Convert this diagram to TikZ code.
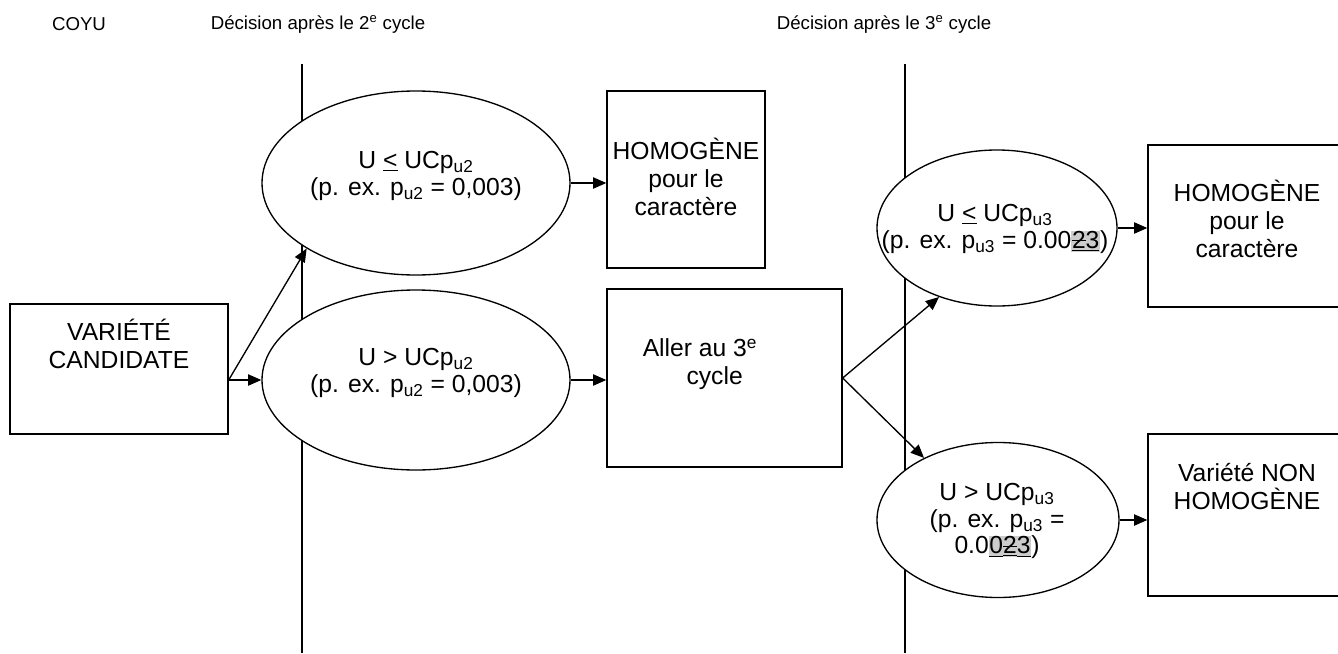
\documentclass[tikz,border=0pt]{standalone}
\usepackage{fontspec}
\setmainfont{Liberation Sans}
\usepackage{tikz}
\usetikzlibrary{shapes.geometric}
\usetikzlibrary{arrows.meta}
\usepackage{color}
\definecolor{hilite}{RGB}{204, 204, 204}
\newcommand{\chg}[1]{{\setlength{\fboxsep}{0.5pt}\colorbox{hilite}{#1}}}
\newcommand{\struck}[1]{\underline{\rlap{\rule[0.3em]{0.556em}{0.6pt}}#1}}

\begin{document}
\begin{tikzpicture}[x=0.75pt, y=-0.75pt,
        head/.style={font=\fontsize{14}{17}\selectfont},
        box/.style={draw, rectangle, line width=1pt, fill=white, inner sep=0pt},
        oval/.style={draw, ellipse, line width=1pt, fill=white, inner sep=0pt},
        txt/.style={align=center, inner sep=0pt, font=\fontsize{18.5}{21}\selectfont},
        ovaltxt/.style={txt, font=\fontsize{18.5}{20}\selectfont},
        flow/.style={line width=1pt, -{Triangle[length=10pt, width=8.5pt]}},
        sep/.style={line width=1pt}]
            % Frame to fix the page size:
            \useasboundingbox                                            (0, 0) rectangle (1338, 653);
            \clip                                                        (0, 0) rectangle (1338, 653);
            % Column titles:
            \node[head] (coyu) at ( 79, 24) {COYU};
            \node[head] (dec2) at (318, 24) {Décision après le 2\textsuperscript{e} cycle};
            \node[head] (dec3) at (884, 24) {Décision après le 3\textsuperscript{e} cycle};
            % Column separators:
            \coordinate (sep2top) at (302,  64);  \coordinate (sep2bot) at (302, 653);
            \coordinate (sep3top) at (905,  64);  \coordinate (sep3bot) at (905, 653);
            \draw[sep] (sep2top) -- (sep2bot);
            \draw[sep] (sep3top) -- (sep3bot);
            % Boxes:
            \node[box, minimum width=163.5pt, minimum height=97.5pt]  (cand)   at ( 119, 369.0) {};
            \node[box, minimum width=118.5pt, minimum height=132.75pt](hom2)   at ( 686, 179.5) {};
            \node[box, minimum width=176.25pt,minimum height=133.5pt] (go3)    at ( 724.5, 378) {};
            \node[box, minimum width=148.5pt, minimum height=121.5pt] (hom3)   at (1247, 226.0) {};
            \node[box, minimum width=148.5pt, minimum height=121.5pt] (nonhom) at (1247, 515.0) {};
            \node[txt] (candtxt)   at ( 119, 344) {VARIÉTÉ\\CANDIDATE};
            \node[txt] (hom2txt)   at ( 686, 177) {HOMOGÈNE\\pour le\\caractère};
            \node[txt] (go3txt)    at ( 700, 364) {Aller au 3\textsuperscript{e}\\\hspace*{22pt}cycle};
            \node[txt] (hom3txt)   at (1247, 219) {HOMOGÈNE\\pour le\\caractère};
            \node[txt] (nonhomtxt) at (1247, 487) {Variété NON\\HOMOGÈNE};
            % Tests:
            \node[oval, minimum width=231pt,   minimum height=138pt]    (le2) at (416, 183) {};
            \node[oval, minimum width=231pt,   minimum height=135pt]    (gt2) at (416, 380) {};
            \node[oval, minimum width=180pt,   minimum height=117pt]    (le3) at (997, 228) {};
            \node[oval, minimum width=181.5pt, minimum height=116.25pt] (gt3) at (998, 520) {};
            \node[ovaltxt] (le2txt) at (416, 176)
                 {U \underline{<} UCp\textsubscript{u2}\\(p. ex. p\textsubscript{u2} = 0,003)};
            \node[ovaltxt] (gt2txt) at (416, 373)
                 {U > UCp\textsubscript{u2}\\(p. ex. p\textsubscript{u2} = 0,003)};
            \node[ovaltxt] (le3txt) at (995, 229)
                 {U \underline{<} UCp\textsubscript{u3}\\(p. ex. p\textsubscript{u3} = 0.00\chg{\struck{2}\underline{3}})};
            \node[ovaltxt] (gt3txt) at (997, 521)
                 {U > UCp\textsubscript{u3}\\(p. ex. p\textsubscript{u3} =\\0.0\chg{\underline{0}\struck{2}\underline{3}})};
            % Arrows:
            \coordinate (fork) at (cand.east |- gt2.west);
            \draw[flow] (fork)     -- (gt2.west);
            \draw[flow] (fork)     -- (le2.south west);
            \draw[flow] (le2.east) -- (le2.east -| hom2.west);
            \draw[flow] (gt2.east) -- (gt2.east -| go3.west);
            \draw[flow] (go3.east) -- (le3.230);
            \draw[flow] (go3.east) -- (gt3.140);
            \draw[flow] (le3.east) -- (le3.east -| hom3.west);
            \draw[flow] (gt3.east) -- (gt3.east -| nonhom.west);
        \end{tikzpicture}
\end{document}
